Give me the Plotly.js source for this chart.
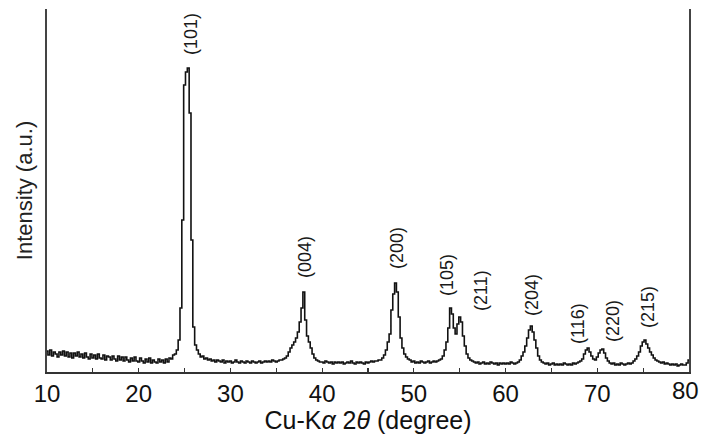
<!DOCTYPE html>
<html>
<head>
<meta charset="utf-8">
<script src="https://cdn.plot.ly/plotly-3.0.1.min.js"></script>
<style>
html,body{margin:0;padding:0;background:#fff;}
#chart{width:702px;height:434px;}
</style>
</head>
<body>
<div id="chart"></div>
<script>
// 2-theta grid: starts at 10 deg, step 0.2 deg (351 points up to 80 deg)
var twoThetaStart = 10;
var twoThetaStep = 0.2;

// Intensity (a.u.), one row = 2 degrees
var intensity = [
  21,17,22,16,20,18,15,20,17,21,
  16,20,15,19,14,19,16,20,15,18,
  14,19,15,13,18,14,17,13,18,14,
  13,17,12,16,15,12,16,13,11,16,
  12,15,11,15,12,10,14,11,15,11,
  10,14,11,9,13,10,14,9,12,10,
  9,13,10,12,9,13,10,14,13,17,
  18,22,32,64,152,287,300,304,259,132,
  45,27,22,18,15,16,13,14,12,13,
  11,12,10,12,11,10,12,9,11,10,
  11,9,10,12,10,9,11,10,9,11,
  10,9,11,10,9,10,11,9,10,11,
  10,11,10,12,11,10,11,12,12,13,
  14,16,20,24,27,30,34,40,50,64,
  80,52,36,30,24,18,14,12,11,10,
  10,9,11,10,9,10,8,10,9,10,
  9,10,8,9,10,9,11,9,8,10,
  9,10,9,8,10,9,10,11,10,11,
  11,12,12,14,17,22,30,38,62,78,
  89,80,55,34,24,18,15,13,12,10,
  11,9,10,9,11,10,9,10,11,9,
  10,11,10,11,12,13,16,22,30,44,
  64,58,44,38,48,55,50,36,26,18,
  14,12,11,10,9,10,8,9,10,8,
  9,8,10,9,8,9,7,9,8,9,
  8,9,8,10,9,8,9,10,12,16,
  20,26,34,42,46,40,32,24,16,12,
  10,9,8,9,7,8,9,7,8,7,
  8,7,9,8,7,8,7,9,8,9,
  10,11,13,18,22,24,20,16,13,12,
  15,19,22,23,19,14,11,9,8,9,
  7,8,7,9,8,7,8,9,8,9,
  11,13,16,20,26,30,32,28,24,20,
  17,14,12,11,10,9,10,8,9,8,
  7,8,7,8,6,7,8,7,7,9,
  12
];

// Peak (hkl) labels and where they are written
var peakLabels = ["(101)","(004)","(200)","(105)","(211)","(204)","(116)","(220)","(215)"];
var labelX = [25.70, 38.13, 48.16, 53.62, 57.32, 62.88, 67.90, 71.72, 75.54];
var labelY = [338, 115, 124, 97, 82, 77, 48, 51, 65];

// x tick values and labels (last label is drawn pulled in from the edge)
var xTickVals = [10,20,30,40,50,60,70,80];
var xTickText = ["10","20","30","40","50","60","70",""];
var lastTickLabel = "80";

var fontFam = "Liberation Sans, Arial, sans-serif";

var trace = {
  type: "scatter",
  mode: "lines",
  x0: twoThetaStart,
  dx: twoThetaStep,
  y: intensity,
  line: {color: "#111", width: 1.6, shape: "hvh"},
  hoverinfo: "skip",
  cliponaxis: false
};

var annotations = peakLabels.map(function(t, i){
  return {
    text: t, x: labelX[i], y: labelY[i], xref: "x", yref: "y",
    showarrow: false, textangle: -90, xanchor: "center", yanchor: "middle",
    font: {family: fontFam, size: 18, color: "#1a1a1a"}
  };
});
annotations.push({
  text: lastTickLabel, x: xTickVals[xTickVals.length - 1], y: 0,
  xref: "x", yref: "paper", showarrow: false,
  xanchor: "center", yanchor: "middle", xshift: -4, yshift: -18,
  font: {family: fontFam, size: 24, color: "#111"}
});

var layout = {
  width: 702, height: 434,
  margin: {l: 47, r: 13, t: 9, b: 62, pad: 0},
  paper_bgcolor: "#fff", plot_bgcolor: "#fff",
  showlegend: false,
  xaxis: {
    range: [10, 80],
    tickmode: "array",
    tickvals: xTickVals,
    ticktext: xTickText,
    ticks: "inside", ticklen: 4, tickwidth: 1.2, tickcolor: "#333",
    minor: {dtick: 5, tick0: 5, ticks: "inside", ticklen: 4, tickwidth: 1.2, tickcolor: "#333"},
    showline: true, linecolor: "#333", linewidth: 1.5, mirror: false,
    showgrid: false, zeroline: false,
    tickfont: {family: fontFam, size: 24, color: "#111"},
    title: {text: "Cu-K<i>α</i> 2<i>θ</i> (degree)", font: {family: fontFam, size: 25, color: "#111"}, standoff: 4}
  },
  yaxis: {
    range: [0, 363],
    showticklabels: false, ticks: "",
    showline: true, linecolor: "#444", linewidth: 1.8, mirror: true,
    showgrid: false, zeroline: false,
    title: {text: "Intensity (a.u.)", font: {family: fontFam, size: 22, color: "#222"}, standoff: 6}
  },
  annotations: annotations
};

Plotly.newPlot("chart", [trace], layout, {displayModeBar: false, staticPlot: true});
</script>
</body>
</html>
